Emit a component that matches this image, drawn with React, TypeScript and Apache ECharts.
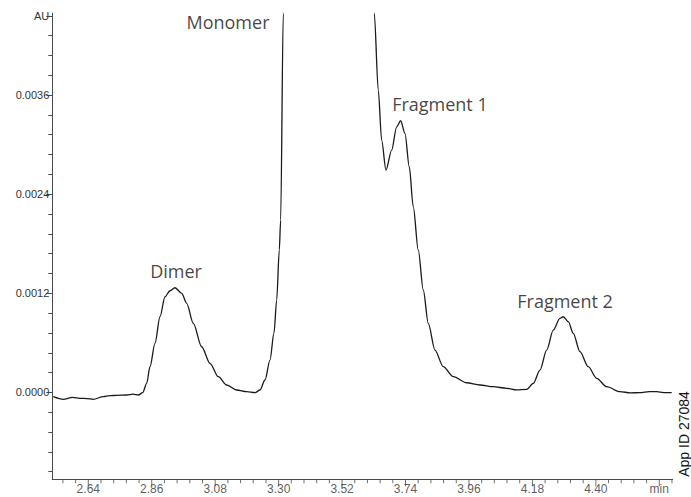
import React, { useEffect, useRef } from "react";
import * as echarts from "echarts";

// Retention time (min)
const times = [
  2.5186, 2.5533, 2.585, 2.6112, 2.635, 2.6573, 2.692, 2.715, 2.7385, 2.7731, 2.795, 2.8134, 2.8286,
  2.8425, 2.8539, 2.8713, 2.8886, 2.906, 2.9233, 2.9406, 2.9639, 2.9812, 3.0041,
  3.0332, 3.062, 3.0908, 3.1199, 3.1546, 3.1892, 3.218, 3.2354, 3.2527, 3.27,
  3.2839, 3.2933, 3.3023, 3.3071, 3.3161, 3.33, 3.4, 3.47, 3.54, 3.6, 3.62,
  3.6317, 3.6455, 3.6573, 3.6722, 3.692, 3.7093, 3.7232, 3.7381, 3.753, 3.7669,
  3.7842, 3.8016, 3.8189, 3.8421, 3.8709, 3.9056, 3.9521, 3.9982, 4.0443, 4.0908,
  4.125, 4.1601, 4.183, 4.2062, 4.2295, 4.2523, 4.2756, 4.287, 4.3044, 4.3217, 4.3449,
  4.3737, 4.4028, 4.4375, 4.4836, 4.52, 4.553, 4.585, 4.6109, 4.635, 4.6629,
];

// Absorbance (AU)
const absorbance = [
  -0.000052, -0.0000835, -0.00006, -0.0000714, -0.000075, -0.0000835, -0.000052, -0.00004, -0.000035, -0.0000315, -0.00002, -0.0000315, -0.0000036,
  0.00011, 0.000311, 0.000594, 0.000916, 0.001158, 0.001231, 0.001267, 0.0012, 0.001079, 0.000836,
  0.000553, 0.000352, 0.00019, 0.0000896, 0.000029, 0.0000085, -0.0000036, 0.000029, 0.00015, 0.000392,
  0.000719, 0.001118, 0.001724, 0.002087, 0.004589, 0.012, 0.035, 0.045, 0.035, 0.015, 0.008,
  0.004589, 0.00366, 0.003055, 0.002692, 0.002934, 0.003216, 0.003289, 0.003136, 0.002732, 0.002248,
  0.001724, 0.00124, 0.000836, 0.000513, 0.000311, 0.00019, 0.000117, 0.0000896, 0.000069, 0.00005,
  0.00003, 0.0000375, 0.00011, 0.000271, 0.000513, 0.000755, 0.000897, 0.000916, 0.000856, 0.000715, 0.000493,
  0.000311, 0.000171, 0.000069, 0.0000085, -0.000005, -0.0000036, 0.00001, 0.0000085, -0.000002, -0.0000036,
];

// Peak annotations
const peakNames = ["Dimer", "Monomer", "Fragment 1", "Fragment 2"];
const peakLabelTimes = [2.9441, 3.1244, 3.8594, 4.2933];
const peakLabelValues = [0.00147, 0.004484, 0.003491, 0.001106];

// Axis ticks
const xMajorTicks = [2.64, 2.86, 3.08, 3.3, 3.52, 3.74, 3.96, 4.18, 4.4, 4.62];
const xUnitTick = 4.62; // labelled "min"
const yMajorTicks = [0, 0.0012, 0.0024, 0.0036, 0.00456];
const yUnitTick = 0.00456; // labelled "AU"

const X_MIN = 2.5152;
const X_MAX = 4.6665;
const Y_MIN = -0.001052;
const Y_MAX = 0.00459;

const xMinorTicks: number[] = [];
for (let k = 0; k <= 48; k++) {
  const v = Math.round((2.552 + k * 0.044) * 1000) / 1000;
  if (!xMajorTicks.some((m) => Math.abs(m - v) < 1e-6)) xMinorTicks.push(v);
}
const yMinorTicks: number[] = [];
for (let k = 0; k <= 23; k++) yMinorTicks.push(Math.round((-0.00096 + k * 0.00024) * 1e6) / 1e6);

export default function App() {
  const ref = useRef<HTMLDivElement>(null);
  useEffect(() => {
    if (!ref.current) return;
    const chart = echarts.init(ref.current, null, { renderer: "svg" });
    const axisColor = "#4a4a4a";
    const labelFont = "'Liberation Sans', Arial, sans-serif";
    const lineData = times.map((t, i) => [t, absorbance[i]]);
    const labelData = peakNames.map((n, i) => ({ name: n, value: [peakLabelTimes[i], peakLabelValues[i]] }));
    chart.setOption({
      animation: false,
      backgroundColor: "#ffffff",
      grid: { left: 52.3, right: 18.3, top: 13.3, bottom: 17.7, containLabel: false },
      xAxis: {
        type: "value",
        min: X_MIN,
        max: X_MAX,
        axisLine: { show: true, onZero: false, lineStyle: { color: axisColor, width: 1 } },
        axisTick: { show: false },
        axisLabel: { show: false },
        splitLine: { show: false },
      },
      yAxis: [
        {
          type: "value",
          min: Y_MIN,
          max: Y_MAX,
          position: "left",
          axisLine: { show: true, onZero: false, lineStyle: { color: axisColor, width: 1 } },
          axisTick: { show: true, customValues: yMajorTicks, length: 6, lineStyle: { color: axisColor } },
          axisLabel: {
            customValues: yMajorTicks,
            margin: 3,
            color: "#333",
            fontSize: 11,
            fontFamily: labelFont,
            formatter: (v: number) => (Math.abs(v - yUnitTick) < 1e-9 ? "AU" : v.toFixed(4)),
          },
          splitLine: { show: false },
        },
        {
          type: "value",
          min: Y_MIN,
          max: Y_MAX,
          position: "left",
          axisLine: { show: false, onZero: false },
          axisTick: { show: true, customValues: yMinorTicks, length: 4, lineStyle: { color: axisColor } },
          axisLabel: { show: false },
          splitLine: { show: false },
        },
      ],
      series: [
        {
          type: "line",
          data: lineData,
          showSymbol: false,
          symbol: "none",
          smooth: 0.3,
          smoothMonotone: "x",
          clip: true,
          lineStyle: { color: "#1a1a1a", width: 1.3 },
          silent: true,
        },
        {
          type: "scatter",
          data: labelData,
          symbolSize: 0,
          silent: true,
          label: {
            show: true,
            position: "inside",
            formatter: (p: any) => p.name,
            color: "#111",
            fontSize: 18,
            fontFamily: "'Open Sans', sans-serif",
          },
        },
        {
          // x-axis major ticks
          type: "scatter",
          data: xMajorTicks.map((t) => [t, Y_MIN]),
          symbol: "rect",
          symbolSize: [1, 7],
          symbolOffset: [0, 3.5],
          itemStyle: { color: axisColor },
          clip: false,
          silent: true,
        },
        {
          // x-axis minor ticks
          type: "scatter",
          data: xMinorTicks.map((t) => [t, Y_MIN]),
          symbol: "rect",
          symbolSize: [1, 4],
          symbolOffset: [0, 2],
          itemStyle: { color: axisColor },
          clip: false,
          silent: true,
        },
        {
          // x-axis tick labels
          type: "scatter",
          data: xMajorTicks.map((t) => [t, Y_MIN]),
          symbolSize: 0,
          clip: false,
          silent: true,
          label: {
            show: true,
            position: "bottom",
            distance: 4,
            lineHeight: 12,
            color: "#333",
            fontSize: 12,
            fontFamily: labelFont,
            formatter: (p: any) => {
              const v = p.value[0];
              return Math.abs(v - xUnitTick) < 1e-6 ? "min" : v.toFixed(2);
            },
          },
        },
      ],
      graphic: [
        {
          type: "text",
          x: 684,
          y: 434,
          rotation: Math.PI / 2,
          style: {
            text: "App ID 27084",
            fill: "#111",
            fontSize: 14,
            fontFamily: labelFont,
            align: "center",
            verticalAlign: "middle",
          },
        },
      ],
    });
    return () => chart.dispose();
  }, []);
  return <div ref={ref} style={{ position: "fixed", left: 0, top: 0, width: 691, height: 497 }} />;
}
